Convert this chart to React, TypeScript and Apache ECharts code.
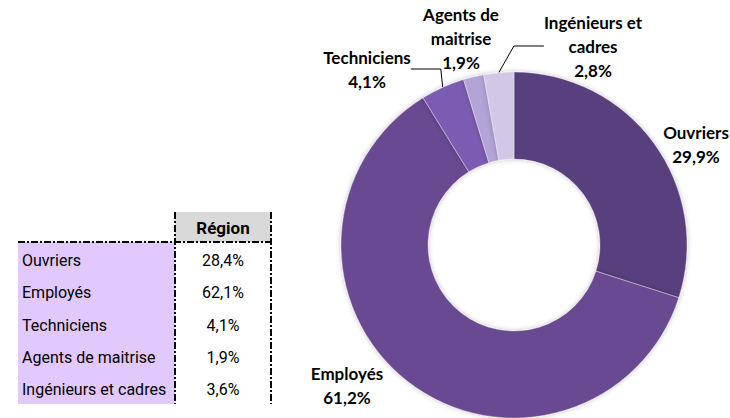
import React, { useEffect, useRef } from "react";
import * as echarts from "echarts";

const categories = ["Ouvriers", "Employés", "Techniciens", "Agents de maitrise", "Ingénieurs et cadres"];
const pieValues = [29.9, 61.2, 4.1, 1.9, 2.8];
const pieLabelNames = ["Ouvriers", "Employés", "Techniciens", "Agents de\nmaitrise", "Ingénieurs et\ncadres"];
const tableHeader = "Région";
const tableValues = [28.4, 62.1, 4.1, 1.9, 3.6];

const sliceColors = ["#583f7e", "#674a92", "#7b5cb2", "#b3a3d6", "#d2c8e6"];
const labelPositions: [number, number][] = [
  [696, 144],
  [347, 385],
  [367, 69],
  [461, 38],
  [593, 46],
];
const showLeader = [false, false, true, false, true];

const fmt = (v: number) => v.toFixed(1).replace(".", ",") + "%";

export default function App() {
  const ref = useRef<HTMLDivElement>(null);
  useEffect(() => {
    if (!ref.current) return;
    const chart = echarts.init(ref.current, null, { renderer: "svg" });

    const tx0 = 18, tx1 = 175, tx2 = 271;
    const headerTop = 212, headerBottom = 242;
    const rowH = 32.4;
    const tableBottom = headerBottom + rowH * categories.length;
    const dash = [7, 2, 2, 2];
    const tableFont = 'Roboto, "Liberation Sans", Arial, sans-serif';

    const graphics: any[] = [
      { type: "rect", shape: { x: tx0, y: headerBottom, width: tx1 - tx0, height: tableBottom - headerBottom }, style: { fill: "#e1c9fd" } },
      { type: "rect", shape: { x: tx1, y: headerTop, width: tx2 - tx1, height: headerBottom - headerTop }, style: { fill: "#d9d9d9" } },
      {
        type: "text",
        x: (tx1 + tx2) / 2,
        y: (headerTop + headerBottom) / 2 + 1,
        style: { text: tableHeader, font: `bold 17px ${tableFont}`, fill: "#000", align: "center", verticalAlign: "middle" },
      },
    ];
    categories.forEach((c, i) => {
      const cy = headerBottom + rowH * i + rowH / 2 + 2;
      graphics.push({
        type: "text", x: tx0 + 4, y: cy,
        style: { text: c, font: `16px ${tableFont}`, fill: "#000", align: "left", verticalAlign: "middle" },
      });
      graphics.push({
        type: "text", x: (tx1 + tx2) / 2, y: cy,
        style: { text: fmt(tableValues[i]), font: `16px ${tableFont}`, fill: "#000", align: "center", verticalAlign: "middle" },
      });
    });
    graphics.push(
      { type: "line", shape: { x1: tx0, y1: headerBottom, x2: tx2 + 1, y2: headerBottom }, style: { stroke: "#000", lineWidth: 2, lineDash: dash } },
      { type: "line", shape: { x1: tx1, y1: headerTop, x2: tx1, y2: tableBottom }, style: { stroke: "#000", lineWidth: 2, lineDash: dash } },
      { type: "line", shape: { x1: tx2, y1: headerTop, x2: tx2, y2: tableBottom }, style: { stroke: "#000", lineWidth: 2, lineDash: dash } }
    );

    chart.setOption({
      animation: false,
      backgroundColor: "#ffffff",
      graphic: graphics,
      series: [
        {
          type: "pie",
          center: [514, 245],
          radius: [86, 173],
          startAngle: 90,
          clockwise: true,
          avoidLabelOverlap: false,
          itemStyle: {
            borderColor: "rgba(255,255,255,0.35)",
            borderWidth: 1,
            shadowBlur: 5,
            shadowColor: "rgba(0,0,0,0.25)",
          },
          label: {
            show: true,
            position: "outside",
            fontFamily: "Lato, 'Noto Sans', sans-serif",
            fontWeight: "bold",
            fontSize: 17,
            lineHeight: 24,
            color: "#000",
            align: "center",
            formatter: (p: any) => `${pieLabelNames[p.dataIndex]}\n${fmt(p.value)}`,
          },
          labelLine: { show: true, lineStyle: { color: "#000", width: 1 } },
          labelLayout: (p: any) => {
            const [x, y] = labelPositions[p.dataIndex];
            return { x, y, align: "center", verticalAlign: "middle" };
          },
          data: categories.map((c, i) => ({
            name: c,
            value: pieValues[i],
            itemStyle: { color: sliceColors[i] },
            labelLine: { show: showLeader[i] },
          })),
        },
      ],
    });
    return () => chart.dispose();
  }, []);
  return <div ref={ref} style={{ position: "absolute", left: 0, top: 0, width: 730, height: 418 }} />;
}
